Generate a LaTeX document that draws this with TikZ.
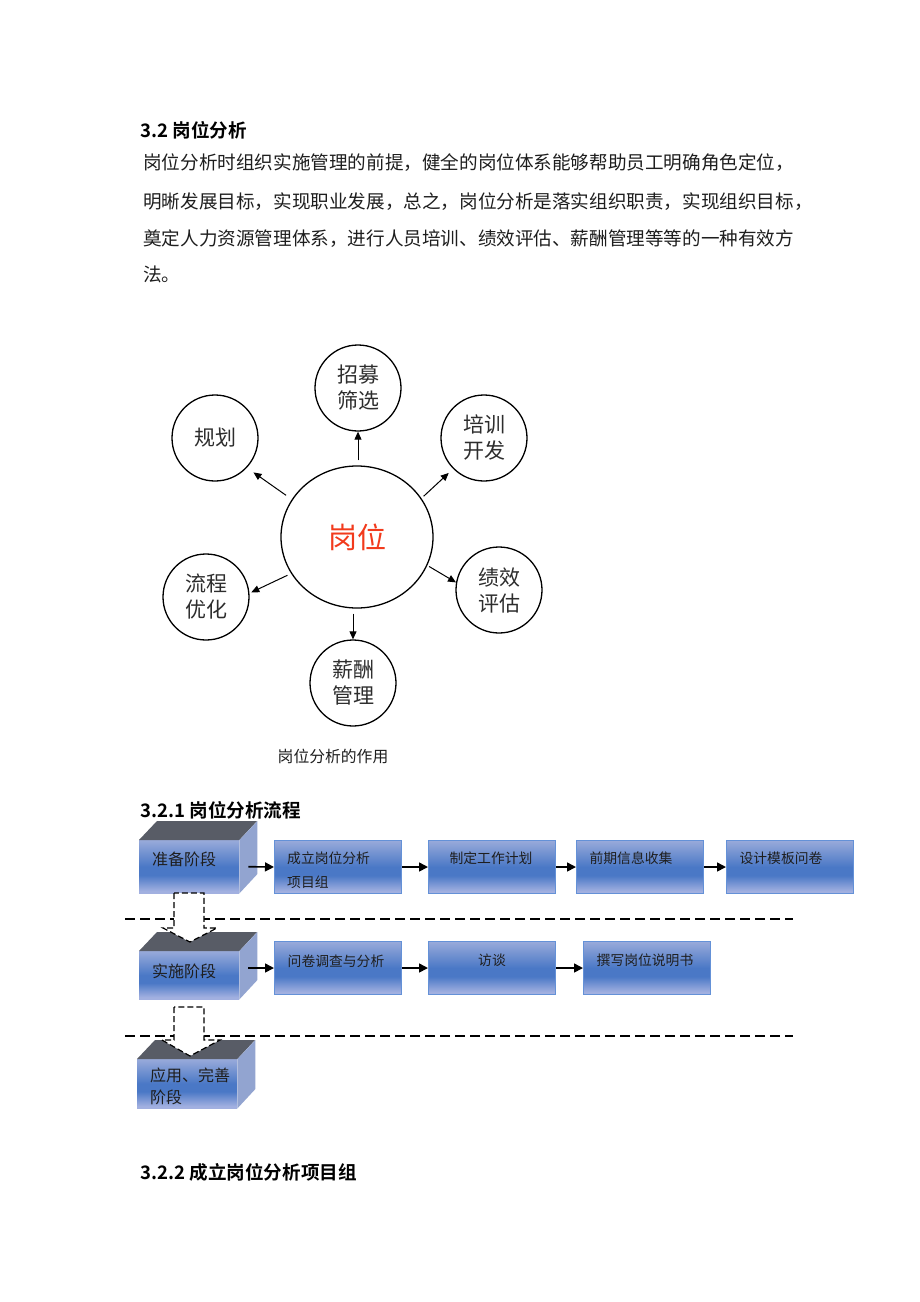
\documentclass[tikz,border=0pt]{standalone}
\usepackage{fontspec}
\setmainfont{Noto Sans CJK SC}[BoldFont={Noto Sans CJK SC Bold}]
\usetikzlibrary{shapes.geometric,arrows.meta}
\definecolor{lb}{RGB}{162,176,224}
\definecolor{lbt}{RGB}{152,170,218}
\definecolor{db}{RGB}{74,120,198}
\definecolor{edgeb}{RGB}{100,145,215}
\definecolor{sideb}{RGB}{146,164,208}
\definecolor{topg}{RGB}{88,92,102}
\definecolor{redt}{RGB}{242,58,28}
\definecolor{txt}{RGB}{30,30,30}
\pgfdeclareverticalshading{boxshade}{100bp}{color(0bp)=(lb); color(27bp)=(lb); color(42bp)=(db); color(50bp)=(db); color(75bp)=(lbt); color(100bp)=(lbt)}
\tikzset{
  bodytext/.style={anchor=west, inner sep=0pt, font=\fontsize{18.6}{18.6}\selectfont, text=txt},
  headtext/.style={anchor=west, inner sep=0pt, font=\fontsize{18.6}{18.6}\selectfont\bfseries, text=black},
  sat/.style={circle, draw, line width=1.3pt, minimum size=86pt, inner sep=0pt, align=center,
    font=\fontsize{21}{26}\selectfont, text={rgb,255:red,45;green,45;blue,45}},
  carrow/.style={line width=1pt, -{Triangle[length=8pt,width=7pt]}},
  flowbox/.style={draw=edgeb, line width=1pt, shading=boxshade, minimum width=127pt,
    minimum height=53pt, inner sep=0pt, anchor=north west},
  frontface/.style={shading=boxshade, inner sep=0pt, anchor=north west, minimum width=100pt},
  topface/.style={fill=topg},
  sideface/.style={fill=sideb},
  boxtext/.style={inner sep=0pt, font=\fontsize{13.8}{13.8}\selectfont, text=txt},
  blocktext/.style={anchor=west, inner sep=0pt, font=\fontsize{16}{16}\selectfont, text=txt},
  flowarrow/.style={line width=1.6pt, -{Triangle[length=9pt,width=9pt]}},
  dashline/.style={line width=1.2pt, dash pattern=on 10pt off 5pt},
  blockarrow/.style={fill=white, draw=black, line width=1.2pt, dash pattern=on 6pt off 3pt},
}
\begin{document}
\begin{tikzpicture}[x=1pt,y=-1pt]
\useasboundingbox[fill=white] (0,0) rectangle (920,1302);

% ---- text section 3.2
\node[headtext] (h1) at (140,130) {3.2 岗位分析};
\node[bodytext] (l1) at (143,163) {岗位分析时组织实施管理的前提，健全的岗位体系能够帮助员工明确角色定位，};
\node[bodytext] (l2) at (143,202) {明晰发展目标，实现职业发展，总之，岗位分析是落实组织职责，实现组织目标，};
\node[bodytext] (l3) at (143,239) {奠定人力资源管理体系，进行人员培训、绩效评估、薪酬管理等等的一种有效方};
\node[bodytext] (l4) at (143,274) {法。};

% ---- circle diagram
\node[ellipse, draw, line width=1.3pt, minimum width=152pt, minimum height=142pt, inner sep=0pt,
  font=\fontsize{29}{29}\selectfont, text=redt] (c) at (357,537) {岗位};
\node[sat] (s1) at (358,388) {招募\\筛选};
\node[sat] (s2) at (215,438) {规划};
\node[sat] (s3) at (484,438) {培训\\开发};
\node[sat] (s4) at (499,590) {绩效\\评估};
\node[sat] (s5) at (206,597) {流程\\优化};
\node[sat] (s6) at (353,683) {薪酬\\管理};

\draw[carrow, shorten <=5pt] (s1.south |- c.north) -- (s1.south);
\draw[carrow, shorten <=7pt, shorten >=8pt] (c.150.6) -- (s2.-43.4);
\draw[carrow, shorten <=3pt, shorten >=6pt] (c.31.2) -- (s3.-135.8);
\draw[carrow, shorten <=2pt] (c.-22) -- (s4.170.5);
\draw[carrow, shorten <=4pt, shorten >=2pt] (c.-151.2) -- (s5.5);
\draw[carrow, shorten <=5pt] (s6.north |- c.south) -- (s6.north);

\node[inner sep=0pt, font=\fontsize{15.8}{15.8}\selectfont, text=txt] (cap) at (333,756) {岗位分析的作用};

% ---- section 3.2.1
\node[headtext] (h2) at (140,810) {3.2.1 岗位分析流程};

% dashed separators
\coordinate (da1) at (125,919); \coordinate (da2) at (793,919);
\coordinate (db1) at (125,1036); \coordinate (db2) at (793,1036);
\draw[dashline] (da1) -- (da2);
\draw[dashline] (db1) -- (db2);

% block 1
\node[frontface, minimum height=53pt] (p1) at (139,840) {};
\fill[topface] (p1.north west) -- ++(18,-19) -- ++(100,0) -- (p1.north east) -- cycle;
\fill[sideface] (p1.north east) -- ++(18,-19) -- ++(0,53) -- (p1.south east) -- cycle;
\node[blocktext] (t1) at (152,859) {准备阶段};

% block 2
\node[frontface, minimum height=48pt] (p2) at (139,951) {};
\fill[topface] (p2.north west) -- ++(18,-19) -- ++(100,0) -- (p2.north east) -- cycle;
\fill[sideface] (p2.north east) -- ++(18,-19) -- ++(0,48) -- (p2.south east) -- cycle;
\node[blocktext] (t2) at (152,971) {实施阶段};

% block 3
\node[frontface, minimum height=49pt] (p3) at (137,1059) {};
\fill[topface] (p3.north west) -- ++(18,-19) -- ++(100,0) -- (p3.north east) -- cycle;
\fill[sideface] (p3.north east) -- ++(18,-19) -- ++(0,49) -- (p3.south east) -- cycle;
\node[blocktext] (t3a) at (150,1075) {应用、完善};
\node[blocktext] (t3b) at (150,1097) {阶段};

% dashed block arrows
\draw[blockarrow] (174,893) -- (174,928) -- (163,928) -- (190,942) -- (217,928) -- (204,928) -- (204,893) -- cycle;
\draw[blockarrow] (174,1007) -- (174,1040) -- (162,1040) -- (190,1056) -- (220,1040) -- (204,1040) -- (204,1007) -- cycle;

% row 1 boxes
\node[flowbox] (b1) at (274,840) {};
\node[flowbox] (b2) at (428,840) {};
\node[flowbox] (b3) at (576,840) {};
\node[flowbox] (b4) at (726,840) {};
\node[boxtext, anchor=west] (tb1a) at (287,858) {成立岗位分析};
\node[boxtext, anchor=west] (tb1b) at (287,882) {项目组};
\node[boxtext] (tb2) at (491,858) {制定工作计划};
\node[boxtext] (tb3) at (631,858) {前期信息收集};
\node[boxtext] (tb4) at (781,858) {设计模板问卷};

% row 2 boxes
\node[flowbox] (c1) at (274,941) {};
\node[flowbox] (c2) at (428,941) {};
\node[flowbox] (c3) at (583,941) {};
\node[boxtext] (tc1) at (336,961) {问卷调查与分析};
\node[boxtext] (tc2) at (492,960) {访谈};
\node[boxtext] (tc3) at (645,960) {撰写岗位说明书};

% flow arrows
\draw[flowarrow] ([xshift=9pt]p1.east) -- (b1.west);
\draw[flowarrow] (b1.east) -- (b2.west);
\draw[flowarrow] (b2.east) -- (b3.west);
\draw[flowarrow] (b3.east) -- (b4.west);
\draw[flowarrow] ([xshift=9pt]p2.east |- c1.west) -- (c1.west);
\draw[flowarrow] (c1.east) -- (c2.west);
\draw[flowarrow] (c2.east) -- (c3.west);

% ---- section 3.2.2
\node[headtext] (h3) at (140,1172) {3.2.2 成立岗位分析项目组};
\end{tikzpicture}
\end{document}
